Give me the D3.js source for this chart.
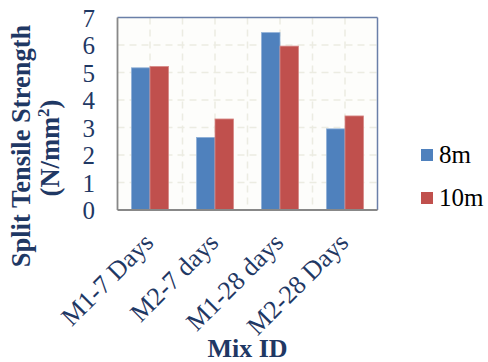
<!DOCTYPE html>
<html><head><meta charset="utf-8">
<script src="https://cdn.jsdelivr.net/npm/d3@7"></script>
<style>body{margin:0;background:#fff}svg{display:block}svg text{font-family:"Liberation Serif","Times New Roman",serif}</style>
</head><body>
<script>
const categories = ["M1-7 Days","M2-7 days","M1-28 days","M2-28 Days"];
const seriesNames = ["8m","10m"];
const values8m = [5.17, 2.64, 6.45, 2.95];
const values10m = [5.22, 3.31, 5.96, 3.42];
const yTicks = [0,1,2,3,4,5,6,7];
const colors = ["#4f81bd","#c0504d"];

const W=488,H=362;
const m={left:117.5,right:110.5,top:17.5,bottom:152};
const svg=d3.select("body").append("svg").attr("width",W).attr("height",H);
const x=d3.scaleBand().domain(categories).range([m.left,W-m.right]).paddingInner(0.43).paddingOuter(0.215);
const x1=d3.scaleBand().domain(seriesNames).range([0,x.bandwidth()]);
const y=d3.scaleLinear().domain([0,7]).range([H-m.bottom,m.top]);
const navy="#1f3864";

// plot background
svg.append("rect").attr("x",m.left).attr("y",m.top).attr("width",W-m.left-m.right).attr("height",H-m.top-m.bottom).attr("fill","#fdfdfb");
// grid
const g=svg.append("g");
g.selectAll(".hg").data(yTicks.slice(1,-1)).join("line")
 .attr("x1",m.left).attr("x2",W-m.right).attr("y1",d=>y(d)).attr("y2",d=>y(d))
 .attr("stroke","#ecece2").attr("stroke-width",1.5).attr("stroke-dasharray","7,5");
const step=x.step();
const vx=d3.range(1,8).map(i=>m.left+i*step/2);
g.selectAll(".vg").data(vx).join("line")
 .attr("x1",d=>d).attr("x2",d=>d).attr("y1",m.top).attr("y2",H-m.bottom)
 .attr("stroke","#ecece2").attr("stroke-width",1.5).attr("stroke-dasharray","7,5");

// bars
const data=categories.map((c,i)=>({c,v:[values8m[i],values10m[i]]}));
const grp=svg.selectAll(".grp").data(data).join("g").attr("transform",d=>`translate(${x(d.c)},0)`);
grp.selectAll("rect").data(d=>d.v.map((v,j)=>({v,s:seriesNames[j],j}))).join("rect")
 .attr("x",d=>x1(d.s)).attr("width",x1.bandwidth()).attr("y",d=>y(d.v)).attr("height",d=>y(0)-y(d.v))
 .attr("fill",d=>colors[d.j]).attr("stroke",d=>d.j?"#d88a88":"#8fb0d8").attr("stroke-width",0.8);

// border
svg.append("line").attr("x1",m.left).attr("x2",W-m.right).attr("y1",m.top).attr("y2",m.top).attr("stroke","#6a7fa8").attr("stroke-width",1.5);
svg.append("line").attr("x1",W-m.right).attr("x2",W-m.right).attr("y1",m.top).attr("y2",H-m.bottom).attr("stroke","#6a7fa8").attr("stroke-width",1.5);
svg.append("line").attr("x1",m.left).attr("x2",m.left).attr("y1",m.top).attr("y2",H-m.bottom).attr("stroke","#888").attr("stroke-width",1.8);
svg.append("line").attr("x1",m.left).attr("x2",W-m.right).attr("y1",H-m.bottom).attr("y2",H-m.bottom).attr("stroke","#888").attr("stroke-width",2);

// y axis
const ya=svg.append("g").attr("transform",`translate(95,0)`)
 .call(d3.axisLeft(y).tickValues(yTicks).tickSize(0).tickPadding(0).tickFormat(d3.format("d")));
ya.attr("font-family",null).attr("font-size",null);
ya.select(".domain").remove();
ya.selectAll("text").style("font-size","25px").attr("fill",navy).attr("dy","0.34em");

// x axis
const xa=svg.append("g").attr("transform",`translate(0,${H-m.bottom})`)
 .call(d3.axisBottom(x).tickSize(0).tickPadding(0));
xa.attr("font-family",null).attr("font-size",null);
xa.select(".domain").remove();
xa.selectAll("text").style("font-size","26px").attr("fill",navy)
 .attr("text-anchor","end").attr("dy",0).attr("y",0)
 .attr("transform","translate(5,34) rotate(-45)");

// titles
svg.append("text").attr("transform","translate(30,146) rotate(-90)").attr("text-anchor","middle")
 .style("font-weight","bold").style("font-size","26.5px").attr("fill",navy).text("Split Tensile Strength");
const t2=svg.append("text").attr("transform","translate(58.5,148) rotate(-90)").attr("text-anchor","middle")
 .style("font-weight","bold").style("font-size","26.5px").attr("fill",navy);
t2.append("tspan").text("(N/mm");
t2.append("tspan").style("font-size","17px").attr("dy",-10).text("2");
t2.append("tspan").attr("dy",10).text(")");
svg.append("text").attr("x",(m.left+W-m.right)/2).attr("y",357).attr("text-anchor","middle")
 .style("font-weight","bold").style("font-size","26px").attr("fill",navy).text("Mix ID");

// legend
const lg=svg.selectAll(".lg").data(seriesNames).join("g").attr("transform",(d,i)=>`translate(421,${149+i*43})`);
lg.append("rect").attr("width",12).attr("height",12).attr("fill",(d,i)=>colors[i]);
lg.append("text").attr("x",18).attr("y",14).style("font-size","25px").attr("fill","#000").text(d=>d);
</script>
</body></html>
